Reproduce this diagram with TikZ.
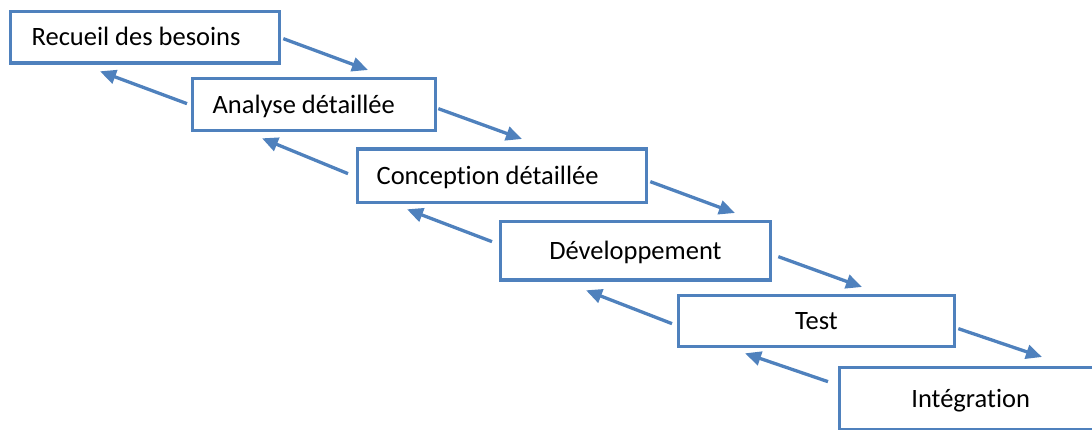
\documentclass[tikz,border=0pt]{standalone}
\usepackage{fontspec}
\setmainfont{Carlito}[Ligatures=NoCommon]
\usetikzlibrary{arrows.meta}
\definecolor{wordblue}{RGB}{79,129,189}
\begin{document}
\begin{tikzpicture}[x=1pt,y=-1pt,
  stage/.style={draw=wordblue, line width=3.3pt, fill=white, inner sep=0pt,
    anchor=north west, font=\fontsize{26.5}{30}\selectfont,
    text height=17pt, text depth=0pt},
  leftstage/.style={stage, align=flush left},
  flow/.style={draw=wordblue, line width=3.3pt,
    -{Triangle[length=16pt,width=14pt]}}]
\useasboundingbox (0,0) rectangle (1092,430);
\clip (0,0) rectangle (1092,430);

% the six phases, each one step lower and further right
\node[leftstage, inner xsep=21pt, text width=227pt, minimum height=51.5pt]
  (R) at (9,10) {Recueil des besoins};
\node[leftstage, inner xsep=20.5pt, text width=202.5pt, minimum height=52pt]
  (A) at (190.5,77) {Analyse détaillée};
\node[leftstage, inner xsep=19pt, text width=251pt, minimum height=53.5pt]
  (C) at (356,147.5) {Conception détaillée};
\node[stage, minimum width=269.5pt, minimum height=58.5pt]
  (D) at (499,220) {Développement};
\node[stage, minimum width=275.5pt, minimum height=51pt]
  (T) at (677,294) {Test};
\node[stage, minimum width=263pt, minimum height=62pt]
  (I) at (837.5,366) {Intégration};

% forward steps, down to the next phase
\draw[flow] ([shift={(2,1.25)}]R.east) -- ([shift={(177.5,-7)}]A.north west);
\draw[flow] ([shift={(1,4)}]A.east) -- ([shift={(166,-8.5)}]C.north west);
\draw[flow] ([shift={(2,5.75)}]C.east) -- ([shift={(236,-7)}]D.north west);
\draw[flow] ([shift={(6.5,5.75)}]D.east) -- ([shift={(185,-7)}]T.north west);
\draw[flow] ([shift={(2.5,7.5)}]T.east) -- ([shift={(204.5,-9)}]I.north west);

% feedback, back up to the previous phase
\draw[flow] ([shift={(-3.5,-1)}]A.west) -- ([shift={(91,6.5)}]R.south west);
\draw[flow] ([shift={(-8,-2.25)}]C.west) -- ([shift={(71.5,6)}]A.south west);
\draw[flow] ([shift={(-7,-9.25)}]D.west) -- ([shift={(51,5)}]C.south west);
\draw[flow] ([shift={(-5,2.5)}]T.west) -- ([shift={(87,8.5)}]D.south west);
\draw[flow] ([shift={(-9.5,-17)}]I.west) -- ([shift={(68,5)}]T.south west);
\end{tikzpicture}
\end{document}
